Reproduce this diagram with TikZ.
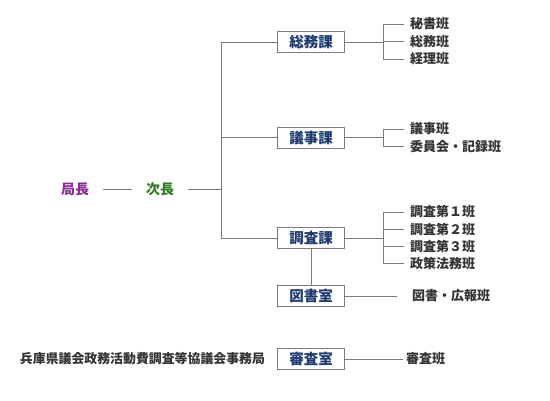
\documentclass[tikz,border=0pt]{standalone}
\usepackage{fontspec}
\newfontfamily\jpfont{Noto Sans CJK JP}
\usetikzlibrary{positioning}
\definecolor{kanbox}{HTML}{1E3A6E}
\definecolor{hantext}{HTML}{333333}
\definecolor{linegray}{HTML}{7A7A7A}
\definecolor{kyokupurple}{HTML}{8A2B93}
\definecolor{jigreen}{HTML}{2F7D21}

\begin{document}
\begin{tikzpicture}[x=1pt, y=-1pt,
    officer/.style={inner xsep=13.5pt, inner ysep=0pt, font=\jpfont\bfseries\fontsize{14}{16}\selectfont},
    kabox/.style={draw=linegray, line width=0.9pt, minimum width=67pt, minimum height=21pt, inner sep=0pt, text=kanbox, font=\jpfont\bfseries\fontsize{14.5}{16}\selectfont},
    han/.style={anchor=west, inner sep=0pt, text=hantext, font=\jpfont\bfseries\fontsize{13}{15}\selectfont},
    link/.style={draw=linegray, line width=0.8pt}]
    \useasboundingbox (0,0) rectangle (550,400);

    % top of the office
    \node[officer, text=kyokupurple] (kyokucho) at (75,189) {局長};
    \node[officer, text=jigreen] (jicho) at (160,189) {次長};
    \coordinate (trunk) at (221,189);

    % sections
    \node[kabox] (soumu)  at (311,42)    {総務課};
    \node[kabox] (giji)   at (311,137.5) {議事課};
    \node[kabox] (chousa) at (311,238)   {調査課};
    \node[kabox] (tosho)  at (311,296)   {図書室};
    \node[kabox] (shinsa) at (311,359)   {審査室};
    \node[han, anchor=center, font=\jpfont\bfseries\fontsize{12.9}{15}\selectfont] (kyougi) at (142.5,359)
        {兵庫県議会政務活動費調査等協議会事務局};

    % teams
    \node[han] (hisho)  at (410,24)    {秘書班};
    \node[han] (soumuh) at (410,41.5)  {総務班};
    \node[han] (keiri)  at (410,59)    {経理班};
    \node[han] (gijih)  at (410,129)   {議事班};
    \node[han] (iinkai) at (410,146.5) {委員会・記録班};
    \node[han] (chou1)  at (410,212)   {調査第１班};
    \node[han] (chou2)  at (410,229.5) {調査第２班};
    \node[han] (chou3)  at (410,246.5) {調査第３班};
    \node[han] (seisaku) at (410,263.5) {政策法務班};
    \node[han] (koho)   at (412,296)   {図書・広報班};
    \node[han] (shinsah) at (406,359)  {審査班};

    % connectors
    \draw[link] (kyokucho) -- (jicho);
    \draw[link] (jicho) -- (trunk);
    \draw[link] (soumu.west -| trunk) -- (chousa.west -| trunk);
    \foreach \k in {soumu, giji, chousa}
        \draw[link] (\k.west -| trunk) -- (\k.west);
    \draw[link] (chousa) -- (tosho);

    \draw[link] (soumu.east) -- ++(38,0) coordinate (sf);
    \draw[link] (sf |- hisho.west) -- (sf |- keiri.west);
    \foreach \h in {hisho, soumuh, keiri}
        \draw[link, shorten >=6pt] (sf |- \h.west) -- (\h.west);

    \draw[link] (giji.east) -- ++(38,0) coordinate (gf);
    \draw[link] (gf |- gijih.west) -- (gf |- iinkai.west);
    \foreach \h in {gijih, iinkai}
        \draw[link, shorten >=6pt] (gf |- \h.west) -- (\h.west);

    \draw[link] (chousa.east) -- ++(38,0) coordinate (cf);
    \draw[link] (cf |- chou1.west) -- (cf |- seisaku.west);
    \foreach \h in {chou1, chou2, chou3, seisaku}
        \draw[link, shorten >=6pt] (cf |- \h.west) -- (\h.west);

    \draw[link, shorten >=15pt] (tosho) -- (koho);
    \draw[link, shorten >=3pt] (shinsa) -- (shinsah);
\end{tikzpicture}
\end{document}
